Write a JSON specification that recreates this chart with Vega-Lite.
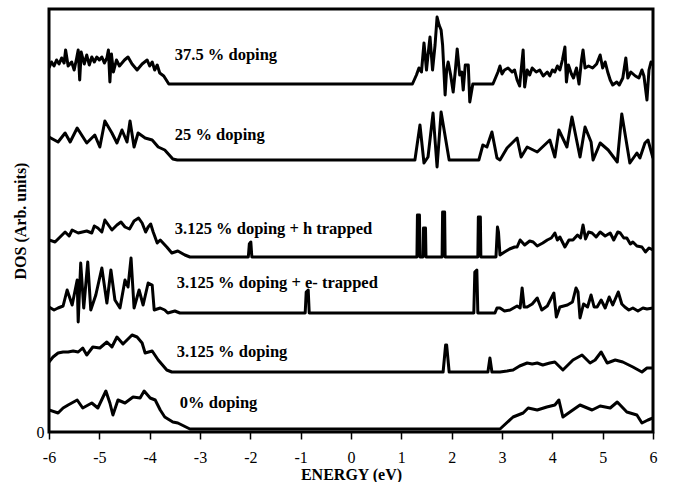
{
  "$schema": "https://vega.github.io/schema/vega-lite/v6.json",
  "autosize": {"type": "none"},
  "padding": {"left": 49, "top": 9, "right": 26, "bottom": 50},
  "width": 604,
  "height": 423,
  "background": "white",
  "config": {
    "view": {"stroke": "black", "strokeWidth": 3},
    "font": "Liberation Serif"
  },
  "datasets": {
    "curves": [
      {"s":"a","e":-6.0,"d":364},{"s":"a","e":-5.95,"d":370},{"s":"a","e":-5.9,"d":366},{"s":"a","e":-5.85,"d":372},{"s":"a","e":-5.8,"d":368},{"s":"a","e":-5.75,"d":374},{"s":"a","e":-5.7,"d":369},{"s":"a","e":-5.67,"d":382},{"s":"a","e":-5.62,"d":366},{"s":"a","e":-5.55,"d":370},{"s":"a","e":-5.5,"d":362},{"s":"a","e":-5.45,"d":374},{"s":"a","e":-5.42,"d":382},{"s":"a","e":-5.39,"d":352},{"s":"a","e":-5.36,"d":380},{"s":"a","e":-5.3,"d":368},{"s":"a","e":-5.25,"d":377},{"s":"a","e":-5.2,"d":367},{"s":"a","e":-5.15,"d":375},{"s":"a","e":-5.1,"d":370},{"s":"a","e":-5.05,"d":375},{"s":"a","e":-5.0,"d":372},{"s":"a","e":-4.95,"d":375},{"s":"a","e":-4.9,"d":369},{"s":"a","e":-4.85,"d":374},{"s":"a","e":-4.82,"d":382},{"s":"a","e":-4.79,"d":350},{"s":"a","e":-4.76,"d":378},{"s":"a","e":-4.72,"d":360},{"s":"a","e":-4.66,"d":372},{"s":"a","e":-4.6,"d":366},{"s":"a","e":-4.5,"d":372},{"s":"a","e":-4.43,"d":375},{"s":"a","e":-4.35,"d":368},{"s":"a","e":-4.25,"d":362},{"s":"a","e":-4.15,"d":368},{"s":"a","e":-4.05,"d":372},{"s":"a","e":-4.0,"d":366},{"s":"a","e":-3.95,"d":370},{"s":"a","e":-3.9,"d":362},{"s":"a","e":-3.85,"d":367},{"s":"a","e":-3.8,"d":359},{"s":"a","e":-3.72,"d":356},{"s":"a","e":-3.62,"d":348},{"s":"a","e":1.22,"d":348},{"s":"a","e":1.3,"d":357},{"s":"a","e":1.35,"d":364},{"s":"a","e":1.4,"d":360},{"s":"a","e":1.45,"d":389},{"s":"a","e":1.5,"d":362},{"s":"a","e":1.53,"d":377},{"s":"a","e":1.57,"d":395},{"s":"a","e":1.62,"d":362},{"s":"a","e":1.67,"d":387},{"s":"a","e":1.71,"d":415},{"s":"a","e":1.75,"d":407},{"s":"a","e":1.79,"d":402},{"s":"a","e":1.82,"d":387},{"s":"a","e":1.87,"d":337},{"s":"a","e":1.9,"d":362},{"s":"a","e":1.93,"d":370},{"s":"a","e":1.98,"d":357},{"s":"a","e":2.03,"d":340},{"s":"a","e":2.07,"d":360},{"s":"a","e":2.11,"d":383},{"s":"a","e":2.16,"d":357},{"s":"a","e":2.2,"d":360},{"s":"a","e":2.23,"d":342},{"s":"a","e":2.27,"d":367},{"s":"a","e":2.33,"d":367},{"s":"a","e":2.36,"d":330},{"s":"a","e":2.42,"d":348},{"s":"a","e":2.82,"d":348},{"s":"a","e":2.87,"d":354},{"s":"a","e":2.92,"d":360},{"s":"a","e":2.96,"d":366},{"s":"a","e":3.0,"d":358},{"s":"a","e":3.05,"d":362},{"s":"a","e":3.12,"d":364},{"s":"a","e":3.2,"d":360},{"s":"a","e":3.25,"d":362},{"s":"a","e":3.3,"d":352},{"s":"a","e":3.35,"d":346},{"s":"a","e":3.42,"d":382},{"s":"a","e":3.45,"d":345},{"s":"a","e":3.5,"d":362},{"s":"a","e":3.55,"d":357},{"s":"a","e":3.6,"d":364},{"s":"a","e":3.68,"d":360},{"s":"a","e":3.75,"d":362},{"s":"a","e":3.82,"d":356},{"s":"a","e":3.9,"d":360},{"s":"a","e":3.95,"d":356},{"s":"a","e":4.0,"d":362},{"s":"a","e":4.05,"d":360},{"s":"a","e":4.1,"d":366},{"s":"a","e":4.15,"d":362},{"s":"a","e":4.2,"d":372},{"s":"a","e":4.25,"d":385},{"s":"a","e":4.28,"d":350},{"s":"a","e":4.32,"d":367},{"s":"a","e":4.38,"d":358},{"s":"a","e":4.42,"d":354},{"s":"a","e":4.48,"d":364},{"s":"a","e":4.53,"d":348},{"s":"a","e":4.58,"d":372},{"s":"a","e":4.61,"d":382},{"s":"a","e":4.65,"d":364},{"s":"a","e":4.72,"d":366},{"s":"a","e":4.8,"d":364},{"s":"a","e":4.88,"d":368},{"s":"a","e":4.95,"d":377},{"s":"a","e":5.0,"d":364},{"s":"a","e":5.05,"d":370},{"s":"a","e":5.1,"d":360},{"s":"a","e":5.15,"d":352},{"s":"a","e":5.2,"d":347},{"s":"a","e":5.28,"d":350},{"s":"a","e":5.33,"d":347},{"s":"a","e":5.4,"d":354},{"s":"a","e":5.46,"d":374},{"s":"a","e":5.5,"d":354},{"s":"a","e":5.56,"d":360},{"s":"a","e":5.65,"d":356},{"s":"a","e":5.72,"d":354},{"s":"a","e":5.78,"d":362},{"s":"a","e":5.82,"d":356},{"s":"a","e":5.88,"d":332},{"s":"a","e":5.92,"d":362},{"s":"a","e":5.96,"d":370},{"s":"a","e":6.0,"d":367},

      {"s":"b","e":-6.0,"d":295},{"s":"b","e":-5.82,"d":290},{"s":"b","e":-5.68,"d":299},{"s":"b","e":-5.58,"d":290},{"s":"b","e":-5.44,"d":304},{"s":"b","e":-5.25,"d":289},{"s":"b","e":-5.09,"d":297},{"s":"b","e":-4.99,"d":285},{"s":"b","e":-4.89,"d":311},{"s":"b","e":-4.75,"d":299},{"s":"b","e":-4.65,"d":289},{"s":"b","e":-4.55,"d":302},{"s":"b","e":-4.45,"d":290},{"s":"b","e":-4.39,"d":311},{"s":"b","e":-4.31,"d":285},{"s":"b","e":-4.23,"d":299},{"s":"b","e":-4.09,"d":294},{"s":"b","e":-3.95,"d":292},{"s":"b","e":-3.83,"d":285},{"s":"b","e":-3.7,"d":282},{"s":"b","e":-3.54,"d":273},{"s":"b","e":-3.45,"d":272},{"s":"b","e":1.27,"d":272},{"s":"b","e":1.37,"d":307},{"s":"b","e":1.45,"d":269},{"s":"b","e":1.53,"d":275},{"s":"b","e":1.63,"d":319},{"s":"b","e":1.71,"d":265},{"s":"b","e":1.79,"d":320},{"s":"b","e":1.95,"d":272},{"s":"b","e":2.54,"d":272},{"s":"b","e":2.62,"d":287},{"s":"b","e":2.7,"d":285},{"s":"b","e":2.8,"d":300},{"s":"b","e":2.9,"d":274},{"s":"b","e":2.96,"d":272},{"s":"b","e":3.1,"d":284},{"s":"b","e":3.3,"d":294},{"s":"b","e":3.38,"d":275},{"s":"b","e":3.5,"d":285},{"s":"b","e":3.7,"d":280},{"s":"b","e":3.95,"d":292},{"s":"b","e":4.05,"d":275},{"s":"b","e":4.13,"d":302},{"s":"b","e":4.29,"d":285},{"s":"b","e":4.39,"d":315},{"s":"b","e":4.55,"d":275},{"s":"b","e":4.65,"d":305},{"s":"b","e":4.77,"d":290},{"s":"b","e":4.81,"d":272},{"s":"b","e":4.95,"d":289},{"s":"b","e":5.11,"d":282},{"s":"b","e":5.29,"d":270},{"s":"b","e":5.38,"d":318},{"s":"b","e":5.54,"d":269},{"s":"b","e":5.68,"d":279},{"s":"b","e":5.74,"d":274},{"s":"b","e":5.84,"d":289},{"s":"b","e":5.9,"d":292},{"s":"b","e":6.0,"d":274},

      {"s":"c","e":-6.0,"d":192},{"s":"c","e":-5.88,"d":190},{"s":"c","e":-5.68,"d":200},{"s":"c","e":-5.6,"d":196},{"s":"c","e":-5.54,"d":202},{"s":"c","e":-5.42,"d":199},{"s":"c","e":-5.25,"d":201},{"s":"c","e":-5.15,"d":199},{"s":"c","e":-5.1,"d":206},{"s":"c","e":-5.03,"d":204},{"s":"c","e":-4.95,"d":200},{"s":"c","e":-4.89,"d":212},{"s":"c","e":-4.75,"d":202},{"s":"c","e":-4.65,"d":207},{"s":"c","e":-4.57,"d":210},{"s":"c","e":-4.49,"d":205},{"s":"c","e":-4.4,"d":203},{"s":"c","e":-4.31,"d":211},{"s":"c","e":-4.22,"d":214},{"s":"c","e":-4.15,"d":209},{"s":"c","e":-4.08,"d":200},{"s":"c","e":-4.03,"d":205},{"s":"c","e":-3.98,"d":208},{"s":"c","e":-3.93,"d":200},{"s":"c","e":-3.85,"d":189},{"s":"c","e":-3.79,"d":192},{"s":"c","e":-3.66,"d":185},{"s":"c","e":-3.56,"d":179},{"s":"c","e":-3.44,"d":181},{"s":"c","e":-3.3,"d":177},{"s":"c","e":-3.2,"d":175},{"s":"c","e":-2.04,"d":175},{"s":"c","e":-2.02,"d":188},{"s":"c","e":-1.99,"d":190},{"s":"c","e":-1.97,"d":175},{"s":"c","e":1.31,"d":175},{"s":"c","e":1.32,"d":217},{"s":"c","e":1.36,"d":217},{"s":"c","e":1.37,"d":175},{"s":"c","e":1.43,"d":175},{"s":"c","e":1.44,"d":204},{"s":"c","e":1.48,"d":204},{"s":"c","e":1.49,"d":175},{"s":"c","e":1.81,"d":175},{"s":"c","e":1.82,"d":220},{"s":"c","e":1.86,"d":220},{"s":"c","e":1.87,"d":175},{"s":"c","e":2.52,"d":175},{"s":"c","e":2.53,"d":215},{"s":"c","e":2.57,"d":215},{"s":"c","e":2.58,"d":175},{"s":"c","e":2.88,"d":175},{"s":"c","e":2.91,"d":205},{"s":"c","e":2.93,"d":200},{"s":"c","e":2.96,"d":177},{"s":"c","e":3.05,"d":180},{"s":"c","e":3.15,"d":183},{"s":"c","e":3.25,"d":185},{"s":"c","e":3.3,"d":185},{"s":"c","e":3.36,"d":192},{"s":"c","e":3.45,"d":187},{"s":"c","e":3.55,"d":191},{"s":"c","e":3.62,"d":190},{"s":"c","e":3.7,"d":186},{"s":"c","e":3.81,"d":189},{"s":"c","e":3.9,"d":192},{"s":"c","e":3.98,"d":194},{"s":"c","e":4.05,"d":199},{"s":"c","e":4.1,"d":192},{"s":"c","e":4.15,"d":195},{"s":"c","e":4.25,"d":185},{"s":"c","e":4.33,"d":192},{"s":"c","e":4.41,"d":192},{"s":"c","e":4.5,"d":197},{"s":"c","e":4.56,"d":194},{"s":"c","e":4.61,"d":207},{"s":"c","e":4.66,"d":193},{"s":"c","e":4.72,"d":200},{"s":"c","e":4.79,"d":199},{"s":"c","e":4.87,"d":195},{"s":"c","e":4.95,"d":200},{"s":"c","e":5.05,"d":196},{"s":"c","e":5.15,"d":199},{"s":"c","e":5.22,"d":192},{"s":"c","e":5.3,"d":200},{"s":"c","e":5.35,"d":199},{"s":"c","e":5.42,"d":194},{"s":"c","e":5.48,"d":194},{"s":"c","e":5.55,"d":188},{"s":"c","e":5.6,"d":190},{"s":"c","e":5.68,"d":186},{"s":"c","e":5.78,"d":185},{"s":"c","e":5.85,"d":180},{"s":"c","e":5.92,"d":184},{"s":"c","e":6.0,"d":182},

      {"s":"d","e":-6.0,"d":125},{"s":"d","e":-5.9,"d":122},{"s":"d","e":-5.82,"d":124},{"s":"d","e":-5.72,"d":126},{"s":"d","e":-5.64,"d":142},{"s":"d","e":-5.54,"d":127},{"s":"d","e":-5.44,"d":152},{"s":"d","e":-5.42,"d":110},{"s":"d","e":-5.37,"d":169},{"s":"d","e":-5.31,"d":124},{"s":"d","e":-5.23,"d":170},{"s":"d","e":-5.17,"d":122},{"s":"d","e":-5.07,"d":137},{"s":"d","e":-4.95,"d":164},{"s":"d","e":-4.85,"d":129},{"s":"d","e":-4.77,"d":162},{"s":"d","e":-4.69,"d":132},{"s":"d","e":-4.59,"d":124},{"s":"d","e":-4.49,"d":152},{"s":"d","e":-4.43,"d":145},{"s":"d","e":-4.37,"d":174},{"s":"d","e":-4.31,"d":124},{"s":"d","e":-4.21,"d":142},{"s":"d","e":-4.13,"d":127},{"s":"d","e":-4.03,"d":149},{"s":"d","e":-3.95,"d":147},{"s":"d","e":-3.91,"d":122},{"s":"d","e":-3.79,"d":124},{"s":"d","e":-3.7,"d":122},{"s":"d","e":-3.64,"d":119},{"s":"d","e":-3.5,"d":121},{"s":"d","e":-3.4,"d":119},{"s":"d","e":-0.91,"d":119},{"s":"d","e":-0.89,"d":140},{"s":"d","e":-0.85,"d":142},{"s":"d","e":-0.83,"d":119},{"s":"d","e":2.44,"d":119},{"s":"d","e":2.46,"d":160},{"s":"d","e":2.5,"d":162},{"s":"d","e":2.52,"d":119},{"s":"d","e":2.86,"d":119},{"s":"d","e":2.9,"d":124},{"s":"d","e":2.96,"d":124},{"s":"d","e":3.05,"d":121},{"s":"d","e":3.16,"d":122},{"s":"d","e":3.3,"d":126},{"s":"d","e":3.36,"d":124},{"s":"d","e":3.4,"d":144},{"s":"d","e":3.44,"d":125},{"s":"d","e":3.5,"d":125},{"s":"d","e":3.6,"d":128},{"s":"d","e":3.7,"d":134},{"s":"d","e":3.79,"d":122},{"s":"d","e":3.9,"d":126},{"s":"d","e":4.03,"d":139},{"s":"d","e":4.08,"d":115},{"s":"d","e":4.15,"d":125},{"s":"d","e":4.3,"d":127},{"s":"d","e":4.4,"d":130},{"s":"d","e":4.47,"d":144},{"s":"d","e":4.51,"d":140},{"s":"d","e":4.55,"d":114},{"s":"d","e":4.62,"d":128},{"s":"d","e":4.7,"d":125},{"s":"d","e":4.77,"d":137},{"s":"d","e":4.83,"d":125},{"s":"d","e":4.89,"d":125},{"s":"d","e":4.97,"d":132},{"s":"d","e":5.05,"d":124},{"s":"d","e":5.13,"d":135},{"s":"d","e":5.2,"d":127},{"s":"d","e":5.31,"d":140},{"s":"d","e":5.38,"d":128},{"s":"d","e":5.44,"d":125},{"s":"d","e":5.52,"d":122},{"s":"d","e":5.6,"d":124},{"s":"d","e":5.7,"d":121},{"s":"d","e":5.8,"d":124},{"s":"d","e":5.88,"d":123},{"s":"d","e":6.0,"d":124},

      {"s":"e","e":-6.0,"d":70},{"s":"e","e":-5.92,"d":75},{"s":"e","e":-5.82,"d":79},{"s":"e","e":-5.72,"d":80},{"s":"e","e":-5.62,"d":80},{"s":"e","e":-5.52,"d":81},{"s":"e","e":-5.42,"d":80},{"s":"e","e":-5.33,"d":84},{"s":"e","e":-5.25,"d":77},{"s":"e","e":-5.13,"d":85},{"s":"e","e":-4.99,"d":84},{"s":"e","e":-4.85,"d":90},{"s":"e","e":-4.75,"d":85},{"s":"e","e":-4.65,"d":95},{"s":"e","e":-4.53,"d":88},{"s":"e","e":-4.43,"d":93},{"s":"e","e":-4.35,"d":97},{"s":"e","e":-4.25,"d":95},{"s":"e","e":-4.15,"d":89},{"s":"e","e":-4.09,"d":79},{"s":"e","e":-3.95,"d":81},{"s":"e","e":-3.83,"d":72},{"s":"e","e":-3.66,"d":62},{"s":"e","e":-3.56,"d":60},{"s":"e","e":1.83,"d":60},{"s":"e","e":1.88,"d":87},{"s":"e","e":1.9,"d":87},{"s":"e","e":1.95,"d":60},{"s":"e","e":2.72,"d":60},{"s":"e","e":2.76,"d":74},{"s":"e","e":2.8,"d":60},{"s":"e","e":2.96,"d":60},{"s":"e","e":3.1,"d":61},{"s":"e","e":3.22,"d":62},{"s":"e","e":3.35,"d":66},{"s":"e","e":3.5,"d":69},{"s":"e","e":3.6,"d":68},{"s":"e","e":3.7,"d":69},{"s":"e","e":3.81,"d":67},{"s":"e","e":3.95,"d":69},{"s":"e","e":4.05,"d":70},{"s":"e","e":4.21,"d":62},{"s":"e","e":4.41,"d":72},{"s":"e","e":4.59,"d":77},{"s":"e","e":4.75,"d":69},{"s":"e","e":4.85,"d":72},{"s":"e","e":4.97,"d":80},{"s":"e","e":5.09,"d":69},{"s":"e","e":5.25,"d":72},{"s":"e","e":5.4,"d":70},{"s":"e","e":5.6,"d":65},{"s":"e","e":5.78,"d":60},{"s":"e","e":5.88,"d":64},{"s":"e","e":6.0,"d":64},

      {"s":"f","e":-6.0,"d":22},{"s":"f","e":-5.82,"d":19},{"s":"f","e":-5.72,"d":24},{"s":"f","e":-5.62,"d":27},{"s":"f","e":-5.44,"d":32},{"s":"f","e":-5.33,"d":24},{"s":"f","e":-5.15,"d":29},{"s":"f","e":-5.03,"d":24},{"s":"f","e":-4.87,"d":41},{"s":"f","e":-4.79,"d":29},{"s":"f","e":-4.73,"d":17},{"s":"f","e":-4.63,"d":32},{"s":"f","e":-4.49,"d":29},{"s":"f","e":-4.33,"d":35},{"s":"f","e":-4.19,"d":34},{"s":"f","e":-4.11,"d":41},{"s":"f","e":-3.99,"d":34},{"s":"f","e":-3.89,"d":32},{"s":"f","e":-3.79,"d":22},{"s":"f","e":-3.7,"d":15},{"s":"f","e":-3.54,"d":10},{"s":"f","e":-3.44,"d":9},{"s":"f","e":-3.2,"d":3},{"s":"f","e":2.96,"d":3},{"s":"f","e":3.22,"d":15},{"s":"f","e":3.42,"d":19},{"s":"f","e":3.52,"d":24},{"s":"f","e":3.7,"d":22},{"s":"f","e":3.89,"d":25},{"s":"f","e":4.05,"d":27},{"s":"f","e":4.13,"d":32},{"s":"f","e":4.21,"d":15},{"s":"f","e":4.35,"d":20},{"s":"f","e":4.55,"d":27},{"s":"f","e":4.79,"d":22},{"s":"f","e":4.95,"d":26},{"s":"f","e":5.15,"d":24},{"s":"f","e":5.29,"d":30},{"s":"f","e":5.48,"d":20},{"s":"f","e":5.68,"d":17},{"s":"f","e":5.78,"d":9},{"s":"f","e":5.9,"d":12},{"s":"f","e":6.0,"d":14}
    ],
    "labels": [
      {"label": "37.5 % doping", "e": -3.5, "d": 377},
      {"label": "25 % doping", "e": -3.5, "d": 297},
      {"label": "3.125 % doping + h trapped", "e": -3.5, "d": 203},
      {"label": "3.125 % doping + e- trapped", "e": -3.46, "d": 149},
      {"label": "3.125 % doping", "e": -3.46, "d": 80},
      {"label": "0% doping", "e": -3.4, "d": 29}
    ]
  },
  "layer": [
    {
      "data": {"name": "curves"},
      "mark": {"type": "line", "color": "black", "strokeWidth": 3, "strokeJoin": "round", "clip": true},
      "encoding": {
        "x": {
          "field": "e", "type": "quantitative",
          "scale": {"domain": [-6, 6], "nice": false, "zero": false},
          "axis": {
            "title": "ENERGY (eV)",
            "values": [-6,-5.5,-5,-4.5,-4,-3.5,-3,-2.5,-2,-1.5,-1,-0.5,0,0.5,1,1.5,2,2.5,3,3.5,4,4.5,5,5.5,6],
            "labelExpr": "datum.value % 1 === 0 ? ('' + datum.value) : ''",
            "grid": false, "domain": false,
            "tickColor": "black", "tickWidth": 1.5, "tickSize": 7,
            "labelColor": "black", "labelFont": "Liberation Serif", "labelFontSize": 16, "labelPadding": 10,
            "labelFlush": false, "labelOverlap": false,
            "titleColor": "black", "titleFont": "Liberation Serif", "titleFontSize": 16, "titleFontWeight": "bold", "titlePadding": 1
          }
        },
        "y": {
          "field": "d", "type": "quantitative",
          "scale": {"domain": [0, 423], "nice": false},
          "axis": {
            "title": "DOS (Arb. units)",
            "values": [0],
            "grid": false, "domain": false, "ticks": false,
            "labelColor": "black", "labelFont": "Liberation Serif", "labelFontSize": 16, "labelPadding": 5,
            "titleColor": "black", "titleFont": "Liberation Serif", "titleFontSize": 16, "titleFontWeight": "bold", "titlePadding": 8
          }
        },
        "detail": {"field": "s", "type": "nominal"}
      }
    },
    {
      "data": {"name": "labels"},
      "mark": {"type": "text", "align": "left", "baseline": "middle", "font": "Liberation Serif", "fontSize": 16.5, "fontWeight": "bold", "color": "black"},
      "encoding": {
        "x": {"field": "e", "type": "quantitative"},
        "y": {"field": "d", "type": "quantitative"},
        "text": {"field": "label", "type": "nominal"}
      }
    }
  ]
}
